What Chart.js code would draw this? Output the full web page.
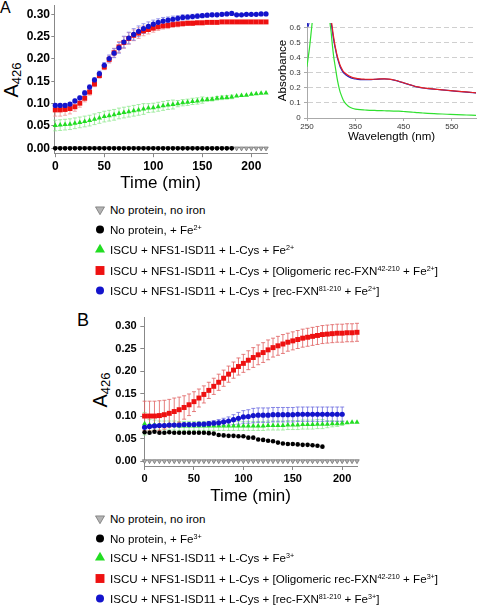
<!DOCTYPE html>
<html><head><meta charset="utf-8">
<script src="https://cdn.jsdelivr.net/npm/chart.js@4.4.1/dist/chart.umd.min.js"></script>
<style>
html,body{margin:0;padding:0;background:#fff;}
body{width:477px;height:606px;position:relative;overflow:hidden;font-family:"Liberation Sans",Arial,sans-serif;color:#000;}
canvas.chart{position:absolute;}
.lbl{position:absolute;white-space:nowrap;}
.yt{position:absolute;width:80px;height:30px;line-height:30px;text-align:center;white-space:nowrap;transform:rotate(-90deg);font-size:20px;}
.yt sub{font-size:13px;vertical-align:-0.25em;line-height:0;}
.row{position:absolute;left:93px;height:14px;display:flex;align-items:center;white-space:nowrap;font-size:11.6px;}
.row canvas{display:block;margin-right:3px;}
.row sup{font-size:0.62em;vertical-align:0.55em;line-height:0;}
</style></head>
<body>
<div class="lbl" style="left:0;top:0;font-size:16px;line-height:16px;">A</div>
<div class="lbl" style="left:77px;top:311px;font-size:18px;line-height:18px;">B</div>
<div class="yt" style="left:-29px;top:65px;">A<sub>426</sub></div>
<div class="yt" style="left:60px;top:375px;">A<sub>426</sub></div>
<canvas class="chart" id="cA" width="272" height="196" style="left:0;top:0;"></canvas>
<canvas class="chart" id="cIn" width="215" height="146" style="left:262px;top:0;"></canvas>
<canvas class="chart" id="cB" width="310" height="210" style="left:60px;top:300px;"></canvas>
<div id="legA"></div>
<div id="legB"></div>
<script>
// ---------------- DATA ----------------
const timeA = [0,5,10,15,20,25,30,35,40,45,50,55,60,65,70,75,80,85,90,95,100,105,110,115,120,125,130,135,140,145,150,155,160,165,170,175,180,185,190,195,200,205,210,215];
const timeB = [0,5,10,15,20,25,30,35,40,45,50,55,60,65,70,75,80,85,90,95,100,105,110,115,120,125,130,135,140,145,150,155,160,165,170,175,180,185,190,195,200,205,210,215];

// Panel A (Fe2+)
const grayA  = [0,0,0,0,0,0,0,0,0,0,0,0,0,0,0,0,0,0,0,0,0,0,0,0,0,0,0,0,0,0,0,0,0,0,0,0,0,0,0,0,0,0,0,0];
const blackA = [0,0,0,0,0,0,0,0,0,0,0,0,0,0,0,0,0,0,0,0,0,0,0,0,0,0,0,0,0,0,0,0,0,0,0,0,0,null,null,null,null,null,null,null];
const greenA = [0.051,0.052,0.053,0.054,0.056,0.058,0.060,0.062,0.065,0.068,0.071,0.073,0.075,0.078,0.080,0.082,0.084,0.086,0.088,0.090,0.091,0.093,0.095,0.097,0.098,0.100,0.102,0.103,0.105,0.106,0.108,0.109,0.110,0.112,0.113,0.114,0.115,0.117,0.118,0.119,0.121,0.122,0.123,0.124];
const greenAErr = [0.012,0.012,0.012,0.012,0.012,0.012,0.012,0.012,0.012,0.012,0.012,0.012,0.012,0.012,0.012,0.012,0.012,0.012,0.012,0.010,0.010,0.010,0.010,0.010,0.010,0.007,0.007,0.007,0.007,0.007,0.007,0.004,0.004,0.004,0.004,0.004,0.004,0,0,0,0,0,0,0];
const redA = [0.086,0.086,0.087,0.089,0.093,0.101,0.112,0.126,0.144,0.163,0.182,0.199,0.214,0.227,0.237,0.246,0.253,0.258,0.263,0.266,0.269,0.272,0.274,0.275,0.277,0.278,0.279,0.280,0.280,0.281,0.281,0.282,0.282,0.282,0.283,0.283,0.283,0.283,0.283,0.283,0.283,0.283,0.283,0.283];
const redAErr = [0.014,0.014,0.013,0.012,0.010,0.009,0.008,0.007,0.006,0.006,0.006,0.008,0.010,0.012,0.013,0.013,0.012,0.012,0.011,0.010,0.009,0.008,0.007,0.007,0.006,0.006,0.005,0.005,0.005,0.004,0.004,0.003,0.003,0.003,0.003,0.003,0.003,0,0,0,0,0,0,0];
const blueA = [0.096,0.096,0.096,0.099,0.106,0.113,0.124,0.137,0.153,0.167,0.186,0.201,0.213,0.225,0.238,0.247,0.255,0.262,0.268,0.273,0.278,0.282,0.285,0.287,0.289,0.291,0.293,0.294,0.295,0.296,0.297,0.298,0.299,0.299,0.300,0.301,0.302,0.299,0.299,0.300,0.300,0.300,0.301,0.301];
const blueAErr = [0.003,0.003,0.003,0.003,0.004,0.004,0.005,0.005,0.005,0.006,0.006,0.008,0.010,0.012,0.013,0.013,0.013,0.012,0.011,0.010,0.009,0.008,0.008,0.007,0.007,0.006,0.006,0.005,0.005,0.005,0.004,0.004,0.004,0.004,0.003,0.003,0.003,0,0,0,0,0,0,0];

// Panel B (Fe3+)
const grayB  = [0,0,0,0,0,0,0,0,0,0,0,0,0,0,0,0,0,0,0,0,0,0,0,0,0,0,0,0,0,0,0,0,0,0,0,0,0,0,0,0,0,0,0,0];
const blackB = [0.064,0.063,0.065,0.063,0.063,0.064,0.063,0.063,0.063,0.063,0.063,0.063,0.063,0.062,0.061,0.058,0.057,0.056,0.056,0.055,0.055,0.052,0.052,0.048,0.047,0.045,0.044,0.041,0.039,0.038,0.038,0.037,0.036,0.036,0.035,0.034,0.032,null,null,null,null,null,null,null];
const greenB = [0.083,0.080,0.080,0.079,0.079,0.079,0.079,0.078,0.078,0.078,0.078,0.078,0.078,0.078,0.078,0.078,0.078,0.078,0.078,0.078,0.078,0.078,0.078,0.078,0.078,0.079,0.079,0.079,0.079,0.080,0.080,0.080,0.081,0.081,0.081,0.082,0.082,0.082,0.083,0.083,0.084,0.085,0.086,0.086];
const greenBErr = [0.025,0.012,0.011,0.010,0.010,0.010,0.010,0.010,0.010,0.010,0.010,0.010,0.010,0.010,0.010,0.010,0.010,0.010,0.010,0.010,0.010,0.010,0.010,0.010,0.010,0.010,0.010,0.010,0.010,0.010,0.010,0.010,0.010,0.010,0.010,0.010,0.010,0.008,0.007,0.006,0.005,0,0,0];
const redB = [0.100,0.100,0.100,0.101,0.103,0.106,0.110,0.114,0.119,0.125,0.132,0.140,0.148,0.157,0.166,0.175,0.184,0.193,0.202,0.210,0.217,0.224,0.230,0.236,0.241,0.247,0.252,0.256,0.260,0.264,0.267,0.270,0.273,0.275,0.277,0.279,0.281,0.282,0.283,0.284,0.284,0.285,0.285,0.286];
const redBErr = [0.033,0.033,0.033,0.033,0.032,0.031,0.030,0.028,0.026,0.024,0.022,0.020,0.019,0.018,0.018,0.018,0.018,0.018,0.018,0.019,0.020,0.021,0.022,0.022,0.022,0.022,0.021,0.021,0.021,0.020,0.020,0.020,0.020,0.020,0.020,0.020,0.020,0.020,0.020,0.020,0.020,0.020,0.020,0.020];
const blueB = [0.075,0.077,0.078,0.079,0.079,0.080,0.080,0.080,0.081,0.081,0.081,0.082,0.082,0.083,0.084,0.085,0.087,0.089,0.092,0.095,0.098,0.099,0.101,0.102,0.102,0.102,0.103,0.103,0.103,0.103,0.103,0.104,0.104,0.104,0.104,0.104,0.104,0.104,0.104,0.104,0.104,null,null,null];
const blueBErr = [0.003,0.003,0.003,0.003,0.003,0.003,0.003,0.003,0.003,0.003,0.003,0.003,0.004,0.005,0.006,0.007,0.008,0.009,0.011,0.013,0.014,0.015,0.016,0.016,0.016,0.016,0.016,0.016,0.016,0.016,0.016,0.016,0.016,0.016,0.016,0.016,0.016,0.016,0.016,0.016,0.016,0,0,0];

const xTicks = [0,50,100,150,200];
const yTicks = [0,0.05,0.10,0.15,0.20,0.25,0.30];

// Inset spectra
const wavelength = [250,252,255,258,261,265,270,280,290,295,298,300,302,304,306,308,310,312,315,318,320,325,330,335,340,345,350,360,370,380,390,400,410,420,430,440,450,460,470,480,490,500,520,540,560,580,600];
const specGreen = [0.34,0.39,0.46,0.55,0.64,0.75,0.90,1.00,0.95,0.72,0.62,0.57,0.50,0.44,0.39,0.35,0.31,0.27,0.22,0.18,0.16,0.12,0.095,0.08,0.07,0.063,0.059,0.055,0.053,0.051,0.050,0.049,0.048,0.047,0.046,0.045,0.043,0.041,0.038,0.035,0.033,0.031,0.028,0.025,0.022,0.020,0.018];
const specBlue = [0.64,0.606,0.65,0.75,0.85,0.95,1.00,1.00,0.90,0.75,0.67,0.63,0.59,0.545,0.505,0.47,0.44,0.41,0.375,0.345,0.33,0.302,0.287,0.276,0.268,0.262,0.259,0.255,0.254,0.254,0.256,0.258,0.259,0.257,0.251,0.243,0.233,0.223,0.213,0.205,0.199,0.195,0.189,0.183,0.177,0.172,0.166];
const specRed = [0.70,0.68,0.72,0.80,0.90,1.00,1.00,1.00,0.90,0.78,0.69,0.65,0.61,0.56,0.52,0.48,0.45,0.42,0.385,0.355,0.34,0.31,0.295,0.283,0.275,0.268,0.264,0.259,0.257,0.256,0.257,0.259,0.260,0.258,0.252,0.244,0.234,0.224,0.214,0.206,0.200,0.196,0.190,0.184,0.178,0.173,0.167];
const insetXTicks = [250,350,450,550];
const insetYTicks = [0,0.1,0.2,0.3,0.4,0.5,0.6];

const legendA = ['No protein, no iron','No protein, + Fe<sup>2+</sup>','ISCU + NFS1-ISD11 + L-Cys + Fe<sup>2+</sup>','ISCU + NFS1-ISD11 + L-Cys + [Oligomeric rec-FXN<sup>42-210</sup> + Fe<sup>2+</sup>]','ISCU + NFS1-ISD11 + L-Cys + [rec-FXN<sup>81-210</sup> + Fe<sup>2+</sup>]'];
const legendB = ['No protein, no iron','No protein, + Fe<sup>3+</sup>','ISCU + NFS1-ISD11 + L-Cys + Fe<sup>3+</sup>','ISCU + NFS1-ISD11 + L-Cys + [Oligomeric rec-FXN<sup>42-210</sup> + Fe<sup>3+</sup>]','ISCU + NFS1-ISD11 + L-Cys + [rec-FXN<sup>81-210</sup> + Fe<sup>3+</sup>]'];

// ---------------- STYLES ----------------
const FONT = '"Liberation Sans", Arial, sans-serif';
Chart.defaults.font.family = FONT;
const ST = {
  gray:  {pointStyle:'triangle', rotation:180, radius:2.6, fill:'#b4b4b4', stroke:'#6a6a6a', bw:0.7, legR:5.2},
  black: {pointStyle:'circle', rotation:0, radius:2.3, fill:'#000000', stroke:'#000000', bw:0, legR:4},
  green: {pointStyle:'triangle', rotation:0, radius:3.0, fill:'#22dd22', stroke:'#22dd22', bw:0, legR:5.8},
  red:   {pointStyle:'rect', rotation:0, radius:3.5, fill:'#ee1111', stroke:'#ee1111', bw:0, legR:6.3},
  blue:  {pointStyle:'circle', rotation:0, radius:2.6, fill:'#1414cc', stroke:'#1414cc', bw:0, legR:4}
};
const ORDER = ['gray','black','green','red','blue'];

function makeDS(label, times, vals, errs, st, errColor, order){
  const data=[], e=[];
  vals.forEach((v,i)=>{ if(v!==null){ data.push({x:times[i], y:v}); e.push(errs?errs[i]:0); } });
  return {label, data, errors:e, errorColor:errColor, order,
    pointStyle:st.pointStyle, pointRotation:st.rotation, pointRadius:st.radius,
    pointBackgroundColor:st.fill, pointBorderColor:st.stroke, pointBorderWidth:st.bw,
    showLine:false, clip:false};
}

const errorBars = {
  id:'errorBars',
  beforeDatasetsDraw(chart){
    const ctx=chart.ctx, xs=chart.scales.x, ys=chart.scales.y;
    ctx.save();
    chart.data.datasets.forEach(ds=>{
      if(!ds.errors) return;
      ctx.strokeStyle=ds.errorColor; ctx.lineWidth=0.8;
      ds.data.forEach((p,j)=>{
        const e=ds.errors[j]; if(!e) return;
        const x=xs.getPixelForValue(p.x), y1=ys.getPixelForValue(p.y+e), y2=ys.getPixelForValue(p.y-e);
        ctx.beginPath();
        ctx.moveTo(x,y1); ctx.lineTo(x,y2);
        ctx.moveTo(x-2,y1); ctx.lineTo(x+2,y1);
        ctx.moveTo(x-2,y2); ctx.lineTo(x+2,y2);
        ctx.stroke();
      });
    });
    ctx.restore();
  }
};

function fixScale(w,h){ return s=>{ if(w!==null) s.width=w; if(h!==null) s.height=h; s.paddingTop=0; s.paddingBottom=0; s.paddingLeft=0; s.paddingRight=0; }; }
function setTicks(vals){ return s=>{ s.ticks = vals.map(v=>({value:v})); }; }

function kineticChart(id, datasets, g){
  return new Chart(document.getElementById(id), {
    type:'scatter',
    data:{datasets},
    options:{
      responsive:false, animation:false, events:[],
      layout:{autoPadding:false, padding:{top:g.padTop, right:g.padRight, bottom:0, left:0}},
      plugins:{legend:{display:false}, tooltip:{enabled:false}},
      scales:{
        x:{type:'linear', min:g.xmin, max:g.xmax, afterBuildTicks:setTicks(xTicks), afterFit:fixScale(null,g.xh),
           grid:{drawOnChartArea:false, tickLength:4, color:'#888'}, border:{color:'#888', width:1},
           ticks:{color:'#000', font:{size:g.tf, weight:'bold'}, padding:g.xpad, maxRotation:0, autoSkip:false},
           title:{display:true, text:'Time (min)', color:'#000', font:{size:17}, padding:{top:0,bottom:g.tpb}}},
        y:{type:'linear', min:-0.011, max:0.32, afterBuildTicks:setTicks(yTicks), afterFit:fixScale(g.yw,null),
           grid:{drawOnChartArea:false, tickLength:g.ytl, color:'#888'}, border:{color:'#888', width:1},
           ticks:{color:'#000', font:{size:g.tf, weight:'bold'}, padding:g.ypad, callback:v=>v.toFixed(2)}}
      }
    },
    plugins:[errorBars]
  });
}

// ---------------- PANEL A ----------------
const dsA = [
  makeDS('No protein, no iron', timeA, grayA, null, ST.gray, null, 5),
  makeDS('No protein, + Fe2+', timeA, blackA, null, ST.black, null, 1),
  makeDS('ISCU + NFS1-ISD11 + L-Cys + Fe2+', timeA, greenA, greenAErr, ST.green, '#8fe88f', 4),
  makeDS('ISCU + NFS1-ISD11 + L-Cys + [Oligomeric rec-FXN42-210 + Fe2+]', timeA, redA, redAErr, ST.red, '#f09090', 3),
  makeDS('ISCU + NFS1-ISD11 + L-Cys + [rec-FXN81-210 + Fe2+]', timeA, blueA, blueAErr, ST.blue, '#8080e6', 2)
];
kineticChart('cA', dsA, {padTop:5.4, padRight:5, xmin:-1, xmax:216, xh:42.8, yw:54.3, tf:12, xpad:2.6, tpb:2.8, ytl:3, ypad:1.3});

// ---------------- PANEL B ----------------
const dsB = [
  makeDS('No protein, no iron', timeB, grayB, null, ST.gray, null, 5),
  makeDS('No protein, + Fe3+', timeB, blackB, null, ST.black, null, 1),
  makeDS('ISCU + NFS1-ISD11 + L-Cys + Fe3+', timeB, greenB, greenBErr, ST.green, '#8fe88f', 4),
  makeDS('ISCU + NFS1-ISD11 + L-Cys + [Oligomeric rec-FXN42-210 + Fe3+]', timeB, redB, redBErr, ST.red, '#e06060', 3),
  makeDS('ISCU + NFS1-ISD11 + L-Cys + [rec-FXN81-210 + Fe3+]', timeB, blueB, blueBErr, ST.blue, '#6a6ae0', 2)
];
kineticChart('cB', dsB, {padTop:17, padRight:13, xmin:-0.3, xmax:215, xh:44, yw:84.3, tf:11, xpad:2.4, tpb:3.8, ytl:4, ypad:3.6});

// ---------------- INSET ----------------
function specDS(label, vals, color){
  return {label, data:wavelength.map((w,i)=>({x:w, y:vals[i]})), showLine:true, pointRadius:0,
    borderColor:color, borderWidth:1.2, cubicInterpolationMode:'monotone', clip:0};
}
new Chart(document.getElementById('cIn'), {
  type:'scatter',
  data:{datasets:[specDS('red', specRed, '#e82020'), specDS('blue', specBlue, '#2020c0'), specDS('green', specGreen, '#30e030')]},
  options:{
    responsive:false, animation:false, events:[],
    layout:{autoPadding:false, padding:{top:23, right:1, bottom:0, left:0}},
    plugins:{legend:{display:false}, tooltip:{enabled:false}},
    scales:{
      x:{type:'linear', min:250, max:600, afterBuildTicks:setTicks(insetXTicks), afterFit:fixScale(null,28),
         grid:{drawOnChartArea:false, tickLength:3, color:'#aaa'}, border:{color:'#aaa'},
         ticks:{color:'#333', font:{size:8}, padding:1.2, maxRotation:0, autoSkip:false},
         title:{display:true, text:'Wavelength (nm)', color:'#000', font:{size:11.5}, padding:{top:0,bottom:2.1}}},
      y:{type:'linear', min:0, max:0.63, afterBuildTicks:setTicks(insetYTicks), afterFit:fixScale(45,null),
         grid:{drawOnChartArea:true, tickLength:3, color:c=>(c.tick && c.tick.value===0)?'rgba(0,0,0,0)':'#cfcfcf', tickColor:'#aaa'},
         border:{color:'#aaa', dash:[5,3]},
         ticks:{color:'#333', font:{size:8}, padding:3.3, callback:v=>v===0?'0':v.toFixed(1)},
         title:{display:true, text:'Absorbance', color:'#000', font:{size:11.5}, padding:{top:14.1,bottom:0}}}
    }
  }
});

// ---------------- HTML LEGENDS ----------------
function legend(containerId, labels, rowsY){
  const c=document.getElementById(containerId);
  labels.forEach((lab,i)=>{
    const st=ST[ORDER[i]];
    const row=document.createElement('div'); row.className='row'; row.style.top=(rowsY[i]-7)+'px';
    const cv=document.createElement('canvas'); cv.width=14; cv.height=14;
    const ctx=cv.getContext('2d');
    ctx.fillStyle=st.fill; ctx.strokeStyle=st.stroke; ctx.lineWidth=st.bw;
    Chart.helpers.drawPoint(ctx,{pointStyle:st.pointStyle, radius:st.legR, rotation:st.rotation, borderWidth:st.bw},7,7.5);
    const sp=document.createElement('span'); sp.innerHTML=lab;
    row.appendChild(cv); row.appendChild(sp); c.appendChild(row);
  });
}
legend('legA', legendA, [209,229,249,270,290]);
legend('legB', legendB, [518,538,557,578,598]);
</script>
</body></html>
